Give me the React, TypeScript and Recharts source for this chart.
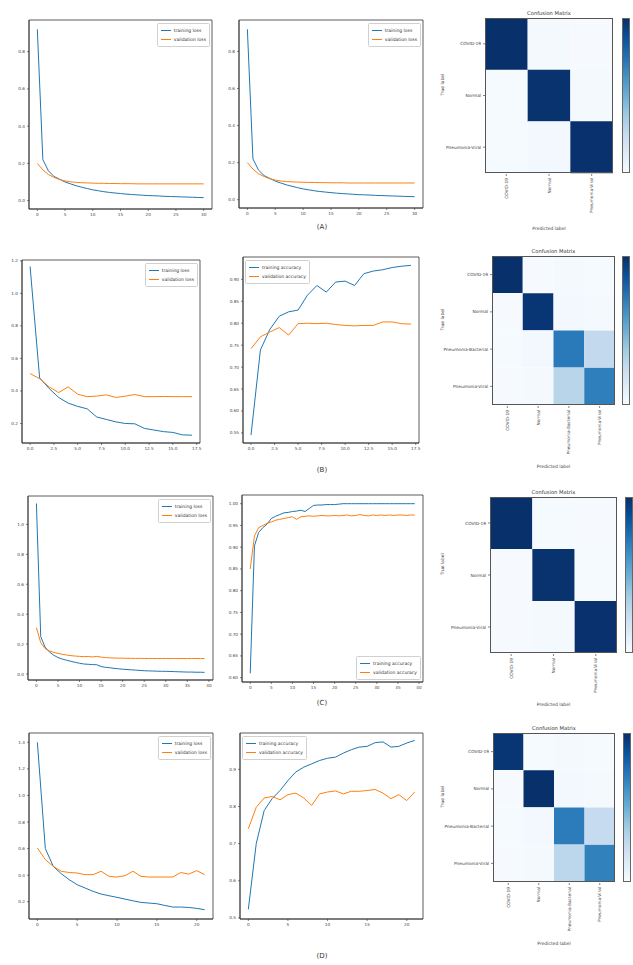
import React from 'react';
import { LineChart, Line, XAxis, YAxis, ReferenceArea, BarChart, Bar, Cell } from 'recharts';

// (A) loss curves, epochs 0..30
const trainLossA = [0.92, 0.22, 0.16, 0.13, 0.115, 0.1, 0.09, 0.08, 0.072, 0.065, 0.058, 0.053, 0.048, 0.044, 0.041, 0.038, 0.035, 0.033, 0.031, 0.029, 0.027, 0.026, 0.025, 0.023, 0.022, 0.021, 0.02, 0.019, 0.018, 0.017, 0.016];
const valLossA = [0.2, 0.165, 0.14, 0.125, 0.113, 0.106, 0.101, 0.098, 0.096, 0.095, 0.094, 0.093, 0.093, 0.092, 0.092, 0.091, 0.091, 0.091, 0.09, 0.09, 0.09, 0.09, 0.09, 0.09, 0.09, 0.09, 0.09, 0.09, 0.09, 0.09, 0.09];

// (B) epochs 0..17
const trainLossB = [1.165, 0.48, 0.415, 0.36, 0.325, 0.305, 0.29, 0.24, 0.225, 0.21, 0.2, 0.198, 0.17, 0.16, 0.15, 0.145, 0.13, 0.128];
const valLossB = [0.507, 0.475, 0.425, 0.39, 0.425, 0.38, 0.365, 0.368, 0.376, 0.36, 0.368, 0.378, 0.365, 0.365, 0.366, 0.365, 0.365, 0.365];
const trainAccB = [0.545, 0.739, 0.786, 0.816, 0.826, 0.83, 0.864, 0.886, 0.871, 0.894, 0.896, 0.886, 0.913, 0.919, 0.922, 0.927, 0.93, 0.932];
const valAccB = [0.742, 0.769, 0.78, 0.79, 0.773, 0.799, 0.8, 0.799, 0.8, 0.797, 0.795, 0.794, 0.795, 0.795, 0.803, 0.803, 0.799, 0.798];

// (C) epochs 0..39
const trainLossC = [1.14, 0.25, 0.18, 0.148, 0.126, 0.11, 0.1, 0.092, 0.085, 0.078, 0.072, 0.067, 0.065, 0.063, 0.062, 0.05, 0.045, 0.042, 0.038, 0.035, 0.032, 0.03, 0.028, 0.026, 0.024, 0.022, 0.021, 0.02, 0.019, 0.018, 0.018, 0.017, 0.016, 0.015, 0.014, 0.013, 0.013, 0.012, 0.012, 0.011];
const valLossC = [0.31, 0.21, 0.17, 0.155, 0.145, 0.138, 0.132, 0.127, 0.123, 0.12, 0.118, 0.116, 0.117, 0.114, 0.118, 0.113, 0.11, 0.108, 0.107, 0.106, 0.106, 0.105, 0.105, 0.104, 0.105, 0.104, 0.104, 0.104, 0.103, 0.104, 0.104, 0.103, 0.104, 0.103, 0.104, 0.103, 0.104, 0.104, 0.103, 0.104];
const trainAccC = [0.61, 0.903, 0.934, 0.945, 0.953, 0.966, 0.971, 0.975, 0.979, 0.98, 0.982, 0.983, 0.985, 0.982, 0.989, 0.996, 0.997, 0.997, 0.998, 0.998, 0.998, 0.999, 1.0, 1.0, 1.0, 1.0, 1.0, 1.0, 1.0, 1.0, 1.0, 1.0, 1.0, 1.0, 1.0, 1.0, 1.0, 1.0, 1.0, 1.0];
const valAccC = [0.85, 0.926, 0.945, 0.95, 0.955, 0.958, 0.962, 0.964, 0.966, 0.968, 0.97, 0.964, 0.97, 0.971, 0.972, 0.971, 0.972, 0.973, 0.972, 0.972, 0.973, 0.972, 0.973, 0.974, 0.972, 0.973, 0.975, 0.973, 0.972, 0.974, 0.973, 0.974, 0.973, 0.974, 0.973, 0.974, 0.974, 0.973, 0.974, 0.974];

// (D) epochs 0..21
const trainLossD = [1.4, 0.6, 0.466, 0.411, 0.366, 0.328, 0.303, 0.278, 0.258, 0.245, 0.233, 0.22, 0.207, 0.195, 0.19, 0.185, 0.172, 0.16, 0.16, 0.157, 0.15, 0.14];
const valLossD = [0.605, 0.517, 0.466, 0.429, 0.42, 0.416, 0.404, 0.404, 0.429, 0.391, 0.386, 0.396, 0.429, 0.391, 0.386, 0.386, 0.386, 0.386, 0.42, 0.408, 0.434, 0.404];
const trainAccD = [0.523, 0.7, 0.789, 0.821, 0.843, 0.87, 0.893, 0.906, 0.915, 0.924, 0.93, 0.933, 0.944, 0.953, 0.96, 0.962, 0.972, 0.974, 0.96, 0.962, 0.971, 0.978];
const valAccD = [0.74, 0.798, 0.823, 0.827, 0.818, 0.832, 0.836, 0.823, 0.803, 0.834, 0.839, 0.842, 0.834, 0.841, 0.841, 0.843, 0.846, 0.836, 0.821, 0.832, 0.816, 0.839];

// tick labels
const ticksX30 = [0, 5, 10, 15, 20, 25, 30];
const ticksX17 = [0, 2.5, 5, 7.5, 10, 12.5, 15, 17.5];
const ticksX40 = [0, 5, 10, 15, 20, 25, 30, 35, 40];
const ticksX20 = [0, 5, 10, 15, 20];
const ticksLossA = [0, 0.2, 0.4, 0.6, 0.8];
const ticksLossB = [0.2, 0.4, 0.6, 0.8, 1.0, 1.2];
const ticksAccB = [0.55, 0.6, 0.65, 0.7, 0.75, 0.8, 0.85, 0.9];
const ticksLossC = [0, 0.2, 0.4, 0.6, 0.8, 1.0];
const ticksAccC = [0.6, 0.65, 0.7, 0.75, 0.8, 0.85, 0.9, 0.95, 1.0];
const ticksLossD = [0.2, 0.4, 0.6, 0.8, 1.0, 1.2, 1.4];
const ticksAccD = [0.5, 0.6, 0.7, 0.8, 0.9];

// confusion matrices
const classes3 = ['COVID-19', 'Normal', 'Pneumonia-Viral'];
const classes4 = ['COVID-19', 'Normal', 'Pneumonia-Bacterial', 'Pneumonia-Viral'];
const cmA = [[190, 3, 1], [2, 188, 3], [2, 4, 189]];
const cmB = [[184, 1, 3, 2], [1, 180, 4, 3], [2, 5, 132, 48], [1, 3, 54, 128]];
const cmC = [[191, 2, 1], [1, 189, 2], [1, 3, 190]];
const cmD = [[180, 2, 3, 2], [1, 184, 4, 3], [2, 5, 130, 46], [1, 3, 52, 127]];

const BLUES = ['#f7fbff', '#deebf7', '#c6dbef', '#9ecae1', '#6baed6', '#4292c6', '#2171b5', '#08519c', '#08306b'];
const hex = (h: string) => [1, 3, 5].map((i) => parseInt(h.slice(i, i + 2), 16));
function blues(t: number) {
  const c = Math.max(0, Math.min(1, t)) * (BLUES.length - 1);
  const i = Math.min(Math.floor(c), BLUES.length - 2);
  const f = c - i;
  const a = hex(BLUES[i]);
  const b = hex(BLUES[i + 1]);
  const m = a.map((v, k) => Math.round(v + (b[k] - v) * f));
  return `rgb(${m[0]},${m[1]},${m[2]})`;
}

const BLUE = '#1f77b4';
const ORANGE = '#ff7f0e';
const AX = '#333';
const FONT = '"DejaVu Sans", sans-serif';
const YW = 16;
const XH = 12;
const MT = 2;
const MR = 2;

type LineProps = {
  box: [number, number, number, number];
  xDomain: [number, number];
  yDomain: [number, number];
  xTicks: number[];
  yTicks: number[];
  xDec: number;
  yDec: number;
  train: number[];
  val: number[];
  names: [string, string];
  legend: 'ur' | 'ul' | 'lr';
};

const LinePanel = (p: LineProps) => {
  const [x0, y0, x1, y1] = p.box;
  const w = x1 - x0;
  const h = y1 - y0;
  const data = p.train.map((v, i) => ({ epoch: i, train: v, val: p.val[i] }));
  const legendPos: React.CSSProperties =
    p.legend === 'ur'
      ? { right: MR + 2, top: MT + 3 }
      : p.legend === 'ul'
      ? { left: YW + 2, top: MT + 3 }
      : { right: MR + 2, top: MT + h - 26 };
  return (
    <div style={{ position: 'absolute', left: x0 - YW, top: y0 - MT }}>
      <LineChart width={YW + w + MR} height={MT + h + XH} data={data} margin={{ top: MT, right: MR, bottom: 0, left: 0 }}>
        <XAxis
          type="number"
          dataKey="epoch"
          domain={p.xDomain}
          ticks={p.xTicks}
          interval={0}
          allowDataOverflow
          height={XH}
          tickSize={2}
          tick={{ fontSize: 4.2, fill: '#444' }}
          tickLine={{ stroke: AX, strokeWidth: 0.6 }}
          axisLine={{ stroke: AX, strokeWidth: 0.8 }}
          tickFormatter={(v: number) => v.toFixed(p.xDec)}
        />
        <YAxis
          type="number"
          domain={p.yDomain}
          ticks={p.yTicks}
          interval={0}
          allowDataOverflow
          width={YW}
          tickSize={2}
          tick={{ fontSize: 4.2, fill: '#444' }}
          tickLine={{ stroke: AX, strokeWidth: 0.6 }}
          axisLine={{ stroke: AX, strokeWidth: 0.8 }}
          tickFormatter={(v: number) => v.toFixed(p.yDec)}
        />
        <ReferenceArea x1={p.xDomain[0]} x2={p.xDomain[1]} y1={p.yDomain[0]} y2={p.yDomain[1]} fill="none" stroke={AX} strokeWidth={0.8} />
        <Line dataKey="train" stroke={BLUE} strokeWidth={1} dot={false} isAnimationActive={false} />
        <Line dataKey="val" stroke={ORANGE} strokeWidth={1} dot={false} isAnimationActive={false} />
      </LineChart>
      <div
        style={{
          position: 'absolute',
          ...legendPos,
          border: '0.6px solid #d0d0d0',
          borderRadius: 1.5,
          background: 'rgba(255,255,255,0.85)',
          padding: '2px 3px',
          fontSize: 4.5,
          lineHeight: '9px',
          color: '#333',
          whiteSpace: 'nowrap',
        }}
      >
        {[BLUE, ORANGE].map((c, i) => (
          <div key={i} style={{ display: 'flex', alignItems: 'center' }}>
            <span style={{ display: 'inline-block', width: 10, height: 1, background: c, marginRight: 3 }} />
            {p.names[i]}
          </div>
        ))}
      </div>
    </div>
  );
};

type MatrixProps = {
  box: [number, number, number, number];
  cm: number[][];
  classes: string[];
  yw: number;
  xh: number;
  cbX: number;
};

const MatrixPanel = ({ box, cm, classes, yw, xh, cbX }: MatrixProps) => {
  const [x0, y0, x1, y1] = box;
  const w = x1 - x0;
  const h = y1 - y0;
  const n = classes.length;
  const max = Math.max(...cm.flat());
  const data = classes.map((c) => {
    const row: Record<string, string | number> = { label: c };
    classes.forEach((_, j) => (row[`c${j}`] = 1));
    return row;
  });
  const RotTick = (props: any) => {
    const { x, y, payload } = props;
    const ty = y + 1;
    return (
      <g>
        <line x1={x} x2={x} y1={y0 - y0 + props.y - 3} y2={props.y - 1} stroke={AX} strokeWidth={0.6} />
        <text x={x} y={ty} transform={`rotate(-90 ${x} ${ty})`} textAnchor="end" dominantBaseline="central" fontSize={4.3} fill="#444">
          {classes[Math.floor(payload.value)]}
        </text>
      </g>
    );
  };
  return (
    <>
      <div style={{ position: 'absolute', left: x0, width: w, top: y0 - 8, textAlign: 'center', fontSize: 5.2, color: '#333' }}>
        Confusion Matrix
      </div>
      <div style={{ position: 'absolute', left: x0 - yw, top: y0 }}>
        <BarChart
          width={yw + w}
          height={h + xh}
          data={data}
          layout="vertical"
          barCategoryGap={0}
          barGap={0}
          margin={{ top: 0, right: 0, bottom: 0, left: 0 }}
        >
          <XAxis
            type="number"
            domain={[0, n]}
            ticks={classes.map((_, i) => i + 0.5)}
            interval={0}
            height={xh}
            tickSize={2}
            tickLine={false}
            axisLine={false}
            tick={RotTick}
            label={{ value: 'Predicted label', position: 'insideBottom', fontSize: 4.5, fill: '#444' }}
          />
          <YAxis
            type="category"
            dataKey="label"
            width={yw}
            tickSize={2}
            tick={{ fontSize: 4.3, fill: '#444' }}
            tickLine={{ stroke: AX, strokeWidth: 0.6 }}
            axisLine={false}
            label={{ value: 'True label', angle: -90, position: 'insideLeft', fontSize: 4.5, fill: '#444', offset: 2 }}
          />
          {classes.map((_, j) => (
            <Bar key={j} dataKey={`c${j}`} stackId="m" isAnimationActive={false}>
              {cm.map((row, i) => (
                <Cell key={i} fill={blues(row[j] / max)} />
              ))}
            </Bar>
          ))}
        </BarChart>
      </div>
      <div style={{ position: 'absolute', left: x0, top: y0, width: w, height: h, border: '0.7px solid #555', boxSizing: 'border-box' }} />
      <div
        style={{
          position: 'absolute',
          left: cbX,
          top: y0,
          width: 8,
          height: h,
          boxSizing: 'border-box',
          border: '0.6px solid #666',
          background: `linear-gradient(to top, ${BLUES.join(', ')})`,
        }}
      />
    </>
  );
};

const Tag = ({ text, y }: { text: string; y: number }) => (
  <div style={{ position: 'absolute', left: 302, width: 40, top: y, textAlign: 'center', fontSize: 7, color: '#333' }}>{text}</div>
);

const App = () => {
  return (
    <div style={{ position: 'absolute', left: 0, top: 0, width: 633, height: 965, overflow: 'hidden', background: '#fff', fontFamily: FONT }}>
      {/* row A */}
      <LinePanel box={[29, 20, 212, 209]} xDomain={[-1.5, 31.5]} yDomain={[-0.045, 0.97]} xTicks={ticksX30} yTicks={ticksLossA} xDec={0} yDec={1} train={trainLossA} val={valLossA} names={['training loss', 'validation loss']} legend="ur" />
      <LinePanel box={[239, 20, 423, 208]} xDomain={[-1.5, 31.5]} yDomain={[-0.045, 0.97]} xTicks={ticksX30} yTicks={ticksLossA} xDec={0} yDec={1} train={trainLossA} val={valLossA} names={['training loss', 'validation loss']} legend="ur" />
      <MatrixPanel box={[485, 18, 613, 173]} cm={cmA} classes={classes3} yw={45} xh={62} cbX={622} />
      <Tag text="(A)" y={223} />

      {/* row B */}
      <LinePanel box={[22, 260, 200, 443]} xDomain={[-0.85, 17.85]} yDomain={[0.08, 1.205]} xTicks={ticksX17} yTicks={ticksLossB} xDec={1} yDec={1} train={trainLossB} val={valLossB} names={['training loss', 'validation loss']} legend="ur" />
      <LinePanel box={[243, 257, 419, 443]} xDomain={[-0.85, 17.85]} yDomain={[0.527, 0.951]} xTicks={ticksX17} yTicks={ticksAccB} xDec={1} yDec={2} train={trainAccB} val={valAccB} names={['training accuracy', 'validation accuracy']} legend="ul" />
      <MatrixPanel box={[492, 256, 615, 405]} cm={cmB} classes={classes4} yw={52} xh={68} cbX={622} />
      <Tag text="(B)" y={466} />

      {/* row C */}
      <LinePanel box={[28, 496, 213, 680]} xDomain={[-1.95, 40.95]} yDomain={[-0.04, 1.19]} xTicks={ticksX40} yTicks={ticksLossC} xDec={0} yDec={1} train={trainLossC} val={valLossC} names={['training loss', 'validation loss']} legend="ur" />
      <LinePanel box={[242, 495, 423, 682]} xDomain={[-1.95, 40.95]} yDomain={[0.59, 1.02]} xTicks={ticksX40} yTicks={ticksAccC} xDec={0} yDec={2} train={trainAccC} val={valAccC} names={['training accuracy', 'validation accuracy']} legend="lr" />
      <MatrixPanel box={[490, 497, 617, 653]} cm={cmC} classes={classes3} yw={50} xh={58} cbX={625} />
      <Tag text="(C)" y={699} />

      {/* row D */}
      <LinePanel box={[29, 733, 213, 919]} xDomain={[-1.05, 22.05]} yDomain={[0.07, 1.47]} xTicks={ticksX20} yTicks={ticksLossD} xDec={0} yDec={1} train={trainLossD} val={valLossD} names={['training loss', 'validation loss']} legend="ur" />
      <LinePanel box={[240, 733, 423, 919]} xDomain={[-1.05, 22.05]} yDomain={[0.497, 0.998]} xTicks={ticksX20} yTicks={ticksAccD} xDec={0} yDec={1} train={trainAccD} val={valAccD} names={['training accuracy', 'validation accuracy']} legend="ul" />
      <MatrixPanel box={[493, 733, 615, 882]} cm={cmD} classes={classes4} yw={53} xh={68} cbX={623} />
      <Tag text="(D)" y={952} />
    </div>
  );
};

export default App;
